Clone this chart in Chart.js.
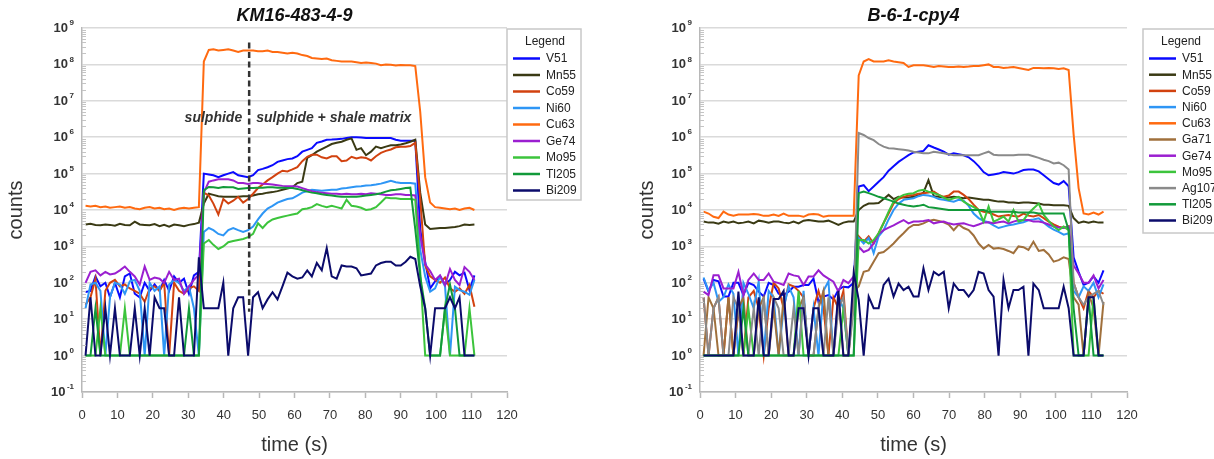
<!DOCTYPE html>
<html lang="en">
<head>
<meta charset="UTF-8" />
<title>LA-ICP-MS time-resolved counts</title>
<script src="https://cdn.jsdelivr.net/npm/chart.js@4"></script>
<style>
  body { margin: 0; background: #fff; }
  .panel { position: absolute; top: 0; height: 459px; }
  #left { left: 0; width: 600px; }
  #right { left: 607px; width: 607px; }
</style>
</head>
<body>
<div class="panel" id="left"><canvas id="chartLeft"></canvas></div>
<div class="panel" id="right"><canvas id="chartRight"></canvas></div>

<script>
// ---- axis ticks ----
const yExponents = [-1, 0, 1, 2, 3, 4, 5, 6, 7, 8, 9];
const ySubSteps = [2, 3, 4, 5, 6, 7, 8, 9];

// ---- KM16-483-4-9 ----
const leftTime = [
  1.0, 2.4, 3.8, 5.2, 6.6, 7.9, 9.3, 10.7, 12.1, 13.5,
  14.9, 16.3, 17.7, 19.1, 20.5, 21.9, 23.2, 24.6, 26.0, 27.4,
  28.8, 30.2, 31.6, 33.0, 34.4, 35.8, 37.1, 38.5, 39.9, 41.3,
  42.7, 44.1, 45.5, 46.9, 48.3, 49.7, 51.0, 52.4, 53.8, 55.2,
  56.6, 58.0, 59.4, 60.8, 62.2, 63.6, 64.9, 66.3, 67.7, 69.1,
  70.5, 71.9, 73.3, 74.7, 76.1, 77.5, 78.8, 80.2, 81.6, 83.0,
  84.4, 85.8, 87.2, 88.6, 90.0, 91.4, 92.7, 94.1, 95.5, 96.9,
  98.3, 99.7, 101.1, 102.5, 103.9, 105.3, 106.6, 108.0, 109.4, 110.8
];
const leftV51 = [
  56, 60, 150, 80, 100, 40, 100, 40, 150, 180,
  50, 40, 100, 60, 90, 60, 120, 60, 150, 100,
  130, 50, 160, 200, 1e5, 9.5e4, 9e4, 8e4, 9e4, 1e5,
  1.1e5, 9e4, 8.5e4, 8e4, 9e4, 1.25e5, 1.35e5, 1.5e5, 1.7e5, 2.1e5,
  2.3e5, 2.5e5, 2.6e5, 3e5, 4e5, 4.5e5, 5e5, 7e5, 7.6e5, 8.5e5,
  8.6e5, 8.8e5, 9e5, 9.5e5, 1e6, 1e6, 9.8e5, 9.5e5, 9.5e5, 9.5e5,
  9.5e5, 9.5e5, 9.5e5, 8.5e5, 8e5, 8e5, 8e5, 8e5, 3e3, 380,
  70, 110, 150, 90, 120, 200, 160, 190, 63, 160
];
const leftMn55 = [
  4.0e3, 4.2e3, 3.9e3, 3.8e3, 4.0e3, 3.9e3, 3.7e3, 4.2e3, 3.9e3, 3.8e3,
  4.8e3, 4.0e3, 3.9e3, 3.8e3, 4.1e3, 3.6e3, 3.9e3, 3.5e3, 4.0e3, 3.8e3,
  3.6e3, 3.9e3, 4.1e3, 4.5e3, 1.5e4, 2.8e4, 2.6e4, 2.4e4, 2.3e4, 2.3e4,
  2.3e4, 2.3e4, 2.4e4, 2.4e4, 2.5e4, 2.7e4, 2.8e4, 3.0e4, 3.1e4, 3.3e4,
  3.6e4, 3.9e4, 4.2e4, 5.5e4, 6e4, 2.7e5, 3.2e5, 4e5, 4.7e5, 5.5e5,
  6.5e5, 7e5, 7.5e5, 8.5e5, 9.3e5, 4.5e5, 5e5, 3.2e5, 4e5, 5.5e5,
  5e5, 5.5e5, 6e5, 6e5, 6.3e5, 6.8e5, 7.5e5, 8.5e5, 3e4, 4e3,
  3.0e3, 3.1e3, 3.2e3, 3.2e3, 3.3e3, 3.4e3, 3.6e3, 4.0e3, 3.9e3, 4.0e3
];
const leftCo59 = [
  25, 40, 130, 1, 60, 100, 120, 80, 90, 70,
  60, 50, 30, 70, 80, 60, 100, 1, 100, 60,
  50, 70, 80, 60, 3e4, 2.5e4, 1.5e4, 7.5e3, 2e4, 1.5e4,
  1.8e4, 2.3e4, 1.6e4, 2e4, 2.8e4, 4e4, 5e4, 6.5e4, 8e4, 1e5,
  1.2e5, 1.15e5, 1.3e5, 1.5e5, 2.2e5, 2.9e5, 3.3e5, 3.3e5, 2.8e5, 2.6e5,
  3e5, 3e5, 2.2e5, 2.3e5, 2.9e5, 2.6e5, 2.8e5, 2.7e5, 2.3e5, 3e5,
  3.7e5, 4.2e5, 4.6e5, 5.3e5, 5.5e5, 5.5e5, 5.7e5, 7e5, 2e4, 300,
  150, 120, 100, 140, 70, 57, 70, 50, 87, 22
];
const leftNi60 = [
  20, 90, 100, 60, 1, 40, 100, 90, 50, 110,
  120, 60, 1, 100, 60, 80, 1, 90, 120, 100,
  60, 80, 20, 1, 2.5e3, 3.2e3, 2.8e3, 2.2e3, 2e3, 2.8e3,
  3.2e3, 2.8e3, 2.5e3, 2.8e3, 3.5e3, 5.5e3, 8e3, 1.1e4, 1.3e4, 1.6e4,
  1.8e4, 2e4, 2.1e4, 2.5e4, 3e4, 3.3e4, 3.6e4, 3.5e4, 3.4e4, 3.5e4,
  3.6e4, 3.6e4, 3.9e4, 4e4, 4.2e4, 4.4e4, 4.5e4, 4.7e4, 4.8e4, 5e4,
  5.3e4, 5.8e4, 6.3e4, 5.8e4, 5.5e4, 5.5e4, 5.5e4, 5.3e4, 800, 150,
  57, 70, 150, 80, 1, 78, 63, 57, 47, 120
];
const leftCu63 = [
  1.3e4, 1.25e4, 1.3e4, 1.2e4, 1.25e4, 1.15e4, 1.2e4, 1.25e4, 1.15e4, 1.2e4,
  1.1e4, 1.05e4, 1.15e4, 1.2e4, 1.1e4, 1.15e4, 1.05e4, 1.1e4, 1.0e4, 1.1e4,
  1.15e4, 1.1e4, 1.15e4, 1.2e4, 1.2e8, 2.5e8, 2.6e8, 2.4e8, 2.5e8, 2.6e8,
  2.4e8, 2.2e8, 2.4e8, 2.4e8, 2.4e8, 2.3e8, 2.3e8, 2.4e8, 2.2e8, 2.2e8,
  2.1e8, 2.0e8, 2.1e8, 2.0e8, 1.8e8, 1.7e8, 1.5e8, 1.45e8, 1.4e8, 1.45e8,
  1.3e8, 1.25e8, 1.2e8, 1.2e8, 1.2e8, 1.15e8, 1.1e8, 1.12e8, 1.1e8, 1.05e8,
  9.5e7, 1.0e8, 9.8e7, 9.3e7, 9.6e7, 9.5e7, 9.5e7, 9e7, 5e6, 8e4,
  1.6e4, 1.2e4, 1.15e4, 1.1e4, 1.05e4, 1.1e4, 1.0e4, 1.1e4, 1.15e4, 1.0e4
];
const leftGe74 = [
  100, 200, 220, 160, 200, 170, 180, 220, 280, 200,
  150, 90, 280, 120, 140, 130, 100, 200, 120, 130,
  50, 80, 120, 170, 3e4, 6e4, 6.5e4, 7e4, 7e4, 7e4,
  6.5e4, 5.5e4, 5.5e4, 5.2e4, 5.5e4, 5.5e4, 5.3e4, 5.2e4, 5e4, 4.8e4,
  4.6e4, 4.5e4, 4.5e4, 4.4e4, 4e4, 3.6e4, 3.3e4, 3.1e4, 3e4, 2.9e4,
  2.8e4, 2.8e4, 2.7e4, 2.8e4, 2.7e4, 2.7e4, 2.8e4, 2.7e4, 2.9e4, 2.8e4,
  2.7e4, 2.6e4, 2.6e4, 2.7e4, 2.7e4, 2.6e4, 2.6e4, 2.5e4, 2e3, 320,
  210, 120, 160, 87, 240, 120, 87, 270, 200, 120
];
const leftMo95 = [
  1, 1, 1, 20, 1, 1, 1, 1, 20, 1,
  1, 1, 1, 1, 1, 1, 1, 1, 1, 1,
  1, 1, 1, 1, 1.2e3, 1.5e3, 1.1e3, 850, 1.0e3, 1.3e3,
  1.4e3, 1.5e3, 1.6e3, 1.8e3, 2.2e3, 4.3e3, 3.2e3, 4.5e3, 5.5e3, 6e3,
  6.5e3, 7e3, 7.5e3, 8e3, 1.05e4, 1.1e4, 1.2e4, 1.45e4, 1.3e4, 1.2e4,
  1.3e4, 1.2e4, 1.1e4, 1.9e4, 1.3e4, 1.25e4, 1.15e4, 1e4, 1.05e4, 1.2e4,
  1.6e4, 2.2e4, 2.1e4, 2.1e4, 2e4, 2e4, 2e4, 1.9e4, 200, 1,
  1, 1, 1, 20, 1, 1, 1, 1, 20, 1
];
const leftTl205 = [
  1, 1, 20, 1, 1, 1, 1, 1, 1, 1,
  1, 1, 1, 1, 1, 1, 1, 1, 1, 1,
  1, 20, 1, 1, 3.5e4, 4.3e4, 4.2e4, 4.0e4, 4.3e4, 4.2e4,
  4.2e4, 3.8e4, 3.9e4, 4e4, 4e4, 4.1e4, 4.1e4, 4.2e4, 4.2e4, 4.1e4,
  4.1e4, 4e4, 4e4, 3.8e4, 3.5e4, 3.2e4, 3e4, 2.9e4, 2.7e4, 2.6e4,
  2.5e4, 2.4e4, 2.3e4, 2.3e4, 2.3e4, 2.3e4, 2.4e4, 2.5e4, 2.6e4, 2.7e4,
  2.9e4, 3.2e4, 3.5e4, 3.6e4, 3.8e4, 4e4, 4.1e4, 3e3, 150, 20,
  1, 1, 1, 20, 90, 20, 1, 1, 1, 1
];
const leftBi209 = [
  1, 40, 1, 1, 20, 1, 20, 1, 1, 1,
  20, 1, 20, 1, 40, 20, 20, 1, 1, 40,
  1, 1, 1, 500, 20, 20, 20, 20, 100, 1,
  20, 40, 40, 1, 40, 55, 20, 35, 55, 35,
  80, 190, 150, 130, 140, 220, 150, 350, 220, 900,
  150, 130, 300, 280, 280, 250, 160, 170, 180, 300,
  350, 380, 380, 300, 300, 380, 520, 450, 80, 20,
  1, 20, 20, 20, 40, 20, 40, 1, 1, 1
];
// dashed boundary between the two domains
const dividerTime = 47.2;
const dividerSpan = [4e8, 16];
const zoneLabelLevel = 3.4e6;

// ---- B-6-1-cpy4 ----
const rightTime = [
  1.0, 2.4, 3.8, 5.2, 6.6, 8.0, 9.4, 10.8, 12.2, 13.6,
  15.1, 16.5, 17.9, 19.3, 20.7, 22.1, 23.5, 24.9, 26.3, 27.7,
  29.1, 30.5, 31.9, 33.3, 34.7, 36.1, 37.5, 38.9, 40.3, 41.7,
  43.2, 44.6, 46.0, 47.4, 48.8, 50.2, 51.6, 53.0, 54.4, 55.8,
  57.2, 58.6, 60.0, 61.4, 62.8, 64.2, 65.7, 67.1, 68.5, 69.9,
  71.3, 72.7, 74.1, 75.5, 76.9, 78.3, 79.7, 81.1, 82.5, 83.9,
  85.3, 86.7, 88.1, 89.5, 90.9, 92.3, 93.7, 95.2, 96.6, 98.0,
  99.4, 100.8, 102.2, 103.6, 105.0, 106.4, 107.8, 109.2, 110.6, 112.0,
  113.4
];
const rightV51 = [
  130, 57, 120, 110, 42, 42, 100, 100, 46, 100,
  87, 57, 42, 100, 87, 50, 46, 57, 78, 78,
  87, 87, 130, 30, 42, 46, 35, 65, 78, 75,
  100, 4.4e4, 4.8e4, 3.3e4, 4.4e4, 6e4, 8e4, 1.2e5, 1.6e5, 2.1e5,
  2.6e5, 3.2e5, 3.8e5, 4e5, 4.2e5, 6e5, 5.2e5, 4.6e5, 4e5, 3.3e5,
  3.6e5, 3.4e5, 3.2e5, 2.8e5, 2.2e5, 1.6e5, 1.1e5, 9e4, 9.5e4, 1e5,
  1.1e5, 1.05e5, 1e5, 1.1e5, 1.25e5, 1.3e5, 1.3e5, 1.15e5, 9e4, 7e4,
  5.5e4, 5e4, 6.2e4, 4.5e4, 500, 200, 87, 100, 150, 100,
  220
];
const rightMn55 = [
  4.8e3, 4.5e3, 4.5e3, 4.2e3, 4.8e3, 4.5e3, 4.8e3, 4.3e3, 4.5e3, 4.8e3,
  4.3e3, 5.1e3, 4.8e3, 4.5e3, 4.8e3, 4.8e3, 4.5e3, 4.3e3, 4.8e3, 4.3e3,
  5.1e3, 5.3e3, 5.1e3, 4.8e3, 4.8e3, 5.1e3, 4.5e3, 3.9e3, 4.5e3, 4.8e3,
  4.8e3, 1e4, 1.3e4, 1.5e4, 1.5e4, 1.55e4, 2e4, 2.6e4, 2e4, 2.3e4,
  2.2e4, 2.2e4, 2.3e4, 2.5e4, 3e4, 6.6e4, 2.4e4, 2.3e4, 2.2e4, 2.2e4,
  2.3e4, 2.2e4, 2.1e4, 2.2e4, 2.1e4, 2e4, 1.9e4, 1.9e4, 1.8e4, 1.7e4,
  1.7e4, 1.6e4, 1.6e4, 1.55e4, 1.6e4, 1.6e4, 1.55e4, 1.5e4, 1.4e4, 1.4e4,
  1.35e4, 1.35e4, 1.35e4, 1.3e4, 6e3, 4.4e3, 4.8e3, 4.5e3, 4.8e3, 4.5e3,
  4.5e3
];
const rightCo59 = [
  40, 1, 20, 40, 1, 40, 1, 20, 1, 40,
  60, 20, 1, 20, 100, 70, 20, 90, 80, 60,
  40, 1, 20, 60, 20, 1, 40, 20, 60, 1,
  40, 1.9e3, 1.35e3, 1.9e3, 1.2e3, 2.3e3, 4.4e3, 8e3, 1.5e4, 2e4,
  2.3e4, 2.5e4, 2.6e4, 2.8e4, 2.9e4, 3e4, 3.2e4, 2.6e4, 2.3e4, 2.5e4,
  3.2e4, 3.2e4, 2.6e4, 2e4, 1.4e4, 1e4, 9e3, 8.5e3, 7.5e3, 6.6e3,
  7e3, 7.3e3, 6.8e3, 6.6e3, 8e3, 7e3, 6.6e3, 7.3e3, 6e3, 4.8e3,
  4e3, 3.5e3, 3.2e3, 3.6e3, 100, 40, 20, 60, 40, 60,
  50
];
const rightNi60 = [
  140, 60, 100, 30, 40, 90, 50, 1, 100, 50,
  20, 110, 1, 60, 40, 1, 20, 80, 40, 1,
  60, 1, 20, 1, 60, 110, 1, 40, 20, 1,
  60, 1.7e3, 1.2e3, 1.7e3, 650, 1.9e3, 2.8e3, 5.5e3, 1e4, 1.5e4,
  1.9e4, 2e4, 2.1e4, 2.4e4, 2.6e4, 2.5e4, 2.3e4, 2e4, 1.9e4, 1.8e4,
  1.7e4, 1.9e4, 1.8e4, 1.3e4, 8e3, 6e3, 5e3, 4.6e3, 3.8e3, 3.2e3,
  3.5e3, 3.8e3, 4e3, 4.3e3, 4.6e3, 5.2e3, 5.5e3, 5.9e3, 4.5e3, 3.5e3,
  2.9e3, 2.5e3, 2.1e3, 2.3e3, 60, 40, 80, 60, 100, 40,
  90
];
const rightCu63 = [
  9e3, 8e3, 6.5e3, 6e3, 9e3, 7.5e3, 7e3, 7.5e3, 7.5e3, 7.5e3,
  7.8e3, 7.5e3, 6.9e3, 7e3, 7.5e3, 6.9e3, 8e3, 6.9e3, 6.9e3, 7e3,
  6.5e3, 7.5e3, 7.8e3, 7.5e3, 6.5e3, 6.9e3, 6.9e3, 6.9e3, 6.9e3, 7e3,
  7e3, 5e7, 1.2e8, 1.4e8, 1.2e8, 1.2e8, 1.2e8, 1.3e8, 1.2e8, 1.15e8,
  1.1e8, 8.5e7, 9.5e7, 9.5e7, 9.5e7, 9e7, 8.5e7, 9e7, 8.8e7, 8.5e7,
  8.5e7, 8.8e7, 8.5e7, 8.7e7, 9e7, 9e7, 9.5e7, 1e8, 8.5e7, 8.5e7,
  8e7, 8.2e7, 8.5e7, 8e7, 7.5e7, 7e7, 8e7, 8e7, 7.8e7, 8e7,
  7.8e7, 7.5e7, 7.8e7, 7e7, 1.2e6, 4e4, 8e3, 7.5e3, 8.5e3, 7.5e3,
  9e3
];
const rightGa71 = [
  1, 40, 20, 1, 1, 40, 1, 20, 40, 1,
  1, 20, 40, 1, 20, 1, 40, 1, 1, 20,
  40, 1, 1, 20, 60, 1, 1, 40, 1, 1,
  60, 80, 200, 220, 380, 650, 700, 900, 1.2e3, 1.7e3,
  2.3e3, 3.2e3, 3.9e3, 3.9e3, 4.3e3, 5e3, 5.4e3, 5e3, 4.6e3, 4e3,
  2.8e3, 4e3, 3.2e3, 2.8e3, 2e3, 1.2e3, 870, 1.1e3, 870, 900,
  850, 750, 650, 1e3, 950, 800, 1.35e3, 750, 800, 600,
  380, 420, 500, 450, 40, 25, 1, 50, 20, 1,
  30
];
const rightGe74 = [
  57, 46, 160, 160, 70, 70, 70, 200, 46, 120,
  180, 120, 120, 180, 107, 98, 87, 180, 160, 150,
  87, 150, 150, 220, 160, 130, 107, 57, 120, 98,
  150, 980, 700, 800, 1.2e3, 2.2e3, 2.8e3, 3.3e3, 3.8e3, 4.5e3,
  5.3e3, 4.3e3, 4.8e3, 4.8e3, 5e3, 5.3e3, 4.3e3, 4.6e3, 4.8e3, 4.3e3,
  4e3, 4.2e3, 4.3e3, 3.9e3, 3.6e3, 4e3, 4.5e3, 4.6e3, 4.3e3, 4.6e3,
  4.8e3, 4.3e3, 4.8e3, 5.2e3, 5.3e3, 5.3e3, 4.8e3, 4.8e3, 4.5e3, 4e3,
  3.5e3, 3.3e3, 3.2e3, 3.5e3, 300, 180, 100, 100, 160, 70,
  120
];
const rightMo95 = [
  1, 1, 1, 1, 1, 1, 1, 1, 1, 20,
  1, 1, 1, 1, 1, 1, 1, 1, 1, 60,
  1, 1, 1, 1, 1, 1, 1, 1, 20, 1,
  1, 1.5e3, 1.5e3, 1.2e3, 1.5e3, 2.3e3, 4.4e3, 9e3, 1.7e4, 2.2e4,
  2.6e4, 2.8e4, 2.9e4, 3.4e4, 3.6e4, 3.2e4, 2.9e4, 2.6e4, 2.2e4, 1.9e4,
  2.1e4, 2.3e4, 1.7e4, 1.4e4, 1.2e4, 1e4, 4.8e3, 1.25e4, 4.8e3, 5.5e3,
  6.6e3, 4.8e3, 1e4, 4.8e3, 5.3e3, 8e3, 1.1e4, 1.5e4, 7.3e3, 5e3,
  3.5e3, 2.8e3, 3.5e3, 2.8e3, 1, 1, 1, 1, 40, 1,
  1
];
const rightAg107 = [
  40, 1, 20, 40, 1, 1, 40, 20, 1, 1,
  20, 1, 40, 1, 40, 20, 1, 1, 20, 1,
  40, 1, 1, 20, 1, 40, 1, 20, 40, 1,
  20, 1.3e6, 1.15e6, 9.5e5, 8.3e5, 6.5e5, 5.5e5, 5e5, 4.9e5, 4.7e5,
  4.5e5, 4.3e5, 4e5, 3.8e5, 3.6e5, 3.6e5, 4e5, 3.8e5, 3.6e5, 3.4e5,
  3.2e5, 3.2e5, 3.2e5, 3.2e5, 3.2e5, 3.2e5, 3.6e5, 4e5, 3.3e5, 3.2e5,
  3.2e5, 3.2e5, 3.2e5, 3.3e5, 3.3e5, 3.3e5, 3e5, 2.7e5, 2.4e5, 2.2e5,
  1.9e5, 2e5, 1.7e5, 1.3e5, 100, 40, 25, 40, 50, 60,
  25
];
const rightTl205 = [
  1, 1, 1, 1, 1, 1, 1, 1, 20, 1,
  1, 1, 1, 1, 1, 1, 1, 1, 1, 1,
  1, 1, 1, 1, 1, 1, 1, 1, 1, 1,
  1, 2.9e4, 3.2e4, 2.9e4, 2.6e4, 2.3e4, 2.1e4, 1.9e4, 1.7e4, 1.5e4,
  1.4e4, 1.3e4, 1.25e4, 1.3e4, 1.4e4, 1.2e4, 1.15e4, 1.1e4, 1.05e4, 1e4,
  1e4, 1e4, 1e4, 1e4, 1e4, 1e4, 1e4, 9e3, 9e3, 9e3,
  9e3, 9e3, 9e3, 8.5e3, 8.5e3, 8.5e3, 8.5e3, 8e3, 8e3, 8e3,
  8e3, 8e3, 8e3, 2.8e3, 20, 1, 1, 40, 1, 1,
  1
];
const rightBi209 = [
  1, 1, 1, 1, 1, 1, 1, 57, 1, 1,
  1, 40, 1, 1, 36, 36, 60, 1, 1, 20,
  20, 1, 20, 20, 1, 1, 1, 60, 1, 1,
  190, 34, 1, 42, 20, 20, 87, 130, 42, 95,
  63, 78, 42, 42, 250, 63, 200, 160, 200, 20,
  95, 63, 63, 42, 63, 200, 180, 63, 42, 1,
  120, 20, 63, 63, 78, 1, 95, 63, 20, 20,
  20, 20, 78, 20, 1, 1, 1, 40, 40, 1,
  1
];

const FONT = "'Liberation Sans', Arial, Helvetica, sans-serif";
const colours = {
  V51: '#0a0aff', Mn55: '#3a3a14', Co59: '#d2420f', Ni60: '#2e96f5',
  Cu63: '#ff6a10', Ga71: '#a0703c', Ge74: '#9b1fd0', Mo95: '#3cc43c',
  Ag107: '#8a8a8a', Tl205: '#129a3a', Bi209: '#0b0b6b'
};

function series(label, times, counts, idx) {
  return {
    label: label,
    data: times.map(function (t, i) { return { x: t, y: counts[i] }; }),
    borderColor: colours[label],
    backgroundColor: colours[label],
    borderWidth: 2,
    pointRadius: 0,
    tension: 0,
    order: -idx  // later elements end up on top
  };
}

// axis labels 10^n, minor ticks, boxed legend, zone captions
const panelDecor = {
  id: 'panelDecor',
  afterDraw: function (chart, args, opts) {
    const ctx = chart.ctx;
    const ys = chart.scales.y;
    const xs = chart.scales.x;
    const axisX = chart.chartArea.left;
    ctx.save();

    // minor ticks just inside the y axis
    ctx.strokeStyle = '#c4c4c4';
    ctx.lineWidth = 1;
    ys.ticks.forEach(function (t) {
      if (t.major) return;
      const py = Math.round(ys.getPixelForValue(t.value)) + 0.5;
      ctx.beginPath();
      ctx.moveTo(axisX, py);
      ctx.lineTo(axisX + 4, py);
      ctx.stroke();
    });

    // 10 with raised exponent
    ctx.fillStyle = '#333';
    ctx.textBaseline = 'middle';
    yExponents.forEach(function (e) {
      const py = ys.getPixelForValue(Math.pow(10, e));
      const sup = String(e);
      ctx.font = 'bold 8px ' + FONT;
      const supW = ctx.measureText(sup).width;
      const supX = axisX - 8 - supW;
      ctx.textAlign = 'left';
      ctx.fillText(sup, supX, py - 5);
      ctx.font = 'bold 13px ' + FONT;
      ctx.textAlign = 'right';
      ctx.fillText('10', supX - 1.5, py + 0.5);
    });

    // legend box
    const lb = opts.legendBox;
    ctx.fillStyle = '#fff';
    ctx.fillRect(lb.x, lb.y, lb.w, lb.h);
    ctx.strokeStyle = '#c8c8c8';
    ctx.lineWidth = 1.5;
    ctx.strokeRect(lb.x, lb.y, lb.w, lb.h);
    ctx.font = '12px ' + FONT;
    ctx.fillStyle = '#222';
    ctx.textAlign = 'center';
    ctx.fillText('Legend', lb.x + 38, lb.y + 13);
    ctx.textAlign = 'left';
    let row = 0;
    chart.data.datasets.forEach(function (ds) {
      if (ds.divider) return;
      const py = lb.y + 29.5 + row * lb.step;
      ctx.strokeStyle = ds.borderColor;
      ctx.lineWidth = 2.5;
      ctx.beginPath();
      ctx.moveTo(lb.x + 6, py);
      ctx.lineTo(lb.x + 33, py);
      ctx.stroke();
      ctx.fillStyle = '#222';
      ctx.fillText(ds.label, lb.x + 39, py + 0.5);
      row++;
    });

    // captions either side of the divider
    if (opts.zone) {
      const px = xs.getPixelForValue(opts.zone.x);
      const py = ys.getPixelForValue(opts.zone.level);
      ctx.font = 'italic bold 14px ' + FONT;
      ctx.fillStyle = '#333';
      ctx.textAlign = 'right';
      ctx.fillText(opts.zone.before, px - 7, py);
      ctx.textAlign = 'left';
      ctx.fillText(opts.zone.after, px + 7, py);
    }
    ctx.restore();
  }
};

function makeOptions(title, yAxisWidth, yTitlePad, padRight, decor) {
  return {
    responsive: true,
    maintainAspectRatio: false,
    animation: false,
    layout: { padding: { left: 0, right: padRight, top: 0, bottom: 0 } },
    scales: {
      x: {
        type: 'linear',
        min: 0,
        max: 120,
        ticks: { stepSize: 10, color: '#333', font: { family: FONT, size: 13 }, padding: 10, maxRotation: 0, autoSkip: false },
        grid: { drawOnChartArea: false, drawTicks: true, tickLength: 6, tickColor: '#b8b8b8', tickWidth: 1.5 },
        border: { color: '#b8b8b8', width: 1.5 },
        title: { display: true, text: 'time (s)', color: '#333', font: { family: FONT, size: 20 }, padding: { top: 0, bottom: 2 } },
        afterFit: function (scale) { scale.height = 67; }
      },
      y: {
        type: 'logarithmic',
        min: 0.1,
        max: 1e9,
        afterBuildTicks: function (scale) {
          const ticks = [];
          yExponents.forEach(function (e) {
            ticks.push({ value: Math.pow(10, e), major: true });
            if (e < 9) {
              ySubSteps.forEach(function (m) { ticks.push({ value: m * Math.pow(10, e), major: false }); });
            }
          });
          scale.ticks = ticks;
        },
        ticks: { display: false },
        grid: {
          drawTicks: false,
          lineWidth: 1.5,
          color: function (c) { return c.tick && c.tick.major ? '#dadada' : 'rgba(0,0,0,0)'; }
        },
        border: { color: '#b8b8b8', width: 1.5 },
        title: { display: true, text: 'counts', color: '#333', font: { family: FONT, size: 20 }, padding: { top: yTitlePad, bottom: 0 } },
        afterFit: function (scale) { scale.width = yAxisWidth; }
      }
    },
    plugins: {
      legend: { display: false },
      tooltip: { enabled: false },
      title: {
        display: true,
        text: title,
        fullSize: false,
        color: '#111',
        font: { family: FONT, size: 18, weight: 'bold', style: 'italic' },
        padding: { top: 5, bottom: 1.4 }
      },
      panelDecor: decor
    }
  };
}

const leftSets = [
  ['V51', leftV51], ['Mn55', leftMn55], ['Co59', leftCo59], ['Ni60', leftNi60],
  ['Cu63', leftCu63], ['Ge74', leftGe74], ['Mo95', leftMo95], ['Tl205', leftTl205],
  ['Bi209', leftBi209]
].map(function (p, i) { return series(p[0], leftTime, p[1], i); });

leftSets.push({
  label: 'divider',
  divider: true,
  data: [{ x: dividerTime, y: dividerSpan[0] }, { x: dividerTime, y: dividerSpan[1] }],
  borderColor: '#333',
  borderWidth: 2.5,
  borderDash: [6, 3.5],
  pointRadius: 0,
  order: -100
});

const rightSets = [
  ['V51', rightV51], ['Mn55', rightMn55], ['Co59', rightCo59], ['Ni60', rightNi60],
  ['Cu63', rightCu63], ['Ga71', rightGa71], ['Ge74', rightGe74], ['Mo95', rightMo95],
  ['Ag107', rightAg107], ['Tl205', rightTl205], ['Bi209', rightBi209]
].map(function (p, i) { return series(p[0], rightTime, p[1], i); });

new Chart(document.getElementById('chartLeft'), {
  type: 'line',
  data: { datasets: leftSets },
  options: makeOptions('KM16-483-4-9', 82, 4, 93, {
    legendBox: { x: 507, y: 29, w: 74, h: 171, step: 16.5 },
    zone: { x: dividerTime, level: zoneLabelLevel, before: 'sulphide', after: 'sulphide + shale matrix' }
  }),
  plugins: [panelDecor]
});

new Chart(document.getElementById('chartRight'), {
  type: 'line',
  data: { datasets: rightSets },
  options: makeOptions('B-6-1-cpy4', 93, 28, 87, {
    legendBox: { x: 536, y: 29, w: 74, h: 204, step: 16.2 }
  }),
  plugins: [panelDecor]
});
</script>
</body>
</html>
